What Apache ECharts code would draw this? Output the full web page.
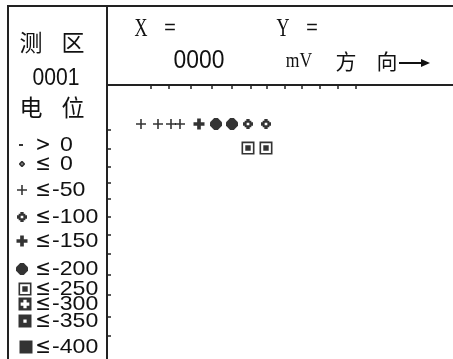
<!DOCTYPE html>
<html>
<head>
<meta charset="utf-8">
<script src="https://cdn.jsdelivr.net/npm/echarts@6/dist/echarts.min.js"></script>
<style>
html,body{margin:0;padding:0;background:#fff;}
#c{width:453px;height:359px;}
</style>
</head>
<body>
<div id="c"></div>
<script>
// ---- data ----
var categories = ['> 0', '≤ 0', '≤-50', '≤-100', '≤-150', '≤-200', '≤-250', '≤-300', '≤-350', '≤-400'];
// measurement points [x, y] per potential class (survey grid units)
var pts_gt0 = [];
var pts_le0 = [];
var pts_le50 = [[34, 39], [51, 39], [64, 39], [73, 39]];
var pts_le100 = [[141, 39], [159, 39]];
var pts_le150 = [[92, 39]];
var pts_le200 = [[109, 39], [125, 39]];
var pts_le250 = [[141, 63], [159, 63]];
var pts_le300 = [];
var pts_le350 = [];
var pts_le400 = [];
var xTicks = [44, 62, 84, 105, 125, 144, 160, 178, 195, 213, 231, 249];
var yTicks = [45, 64, 82, 98, 114, 132, 150, 169, 190, 210, 232, 251];
var areaNo = '0001';
var readout = '0000';

// ---- symbols ----
var SYM = {
  '> 0': 'path://M0,0h3v2h-3z',
  '≤ 0': 'path://M2,0h1l2,2v1l-2,2h-1l-2,-2v-1zM2,2v1h1v-1z',
  '≤-50': 'path://M4,0h1.5v4h4v1.5h-4v4h-1.5v-4h-4v-1.5h4z',
  '≤-100': 'path://M3,0h3v1.5h1.5v1.5h1.5v3h-1.5v1.5h-1.5v1.5h-3v-1.5h-1.5v-1.5h-1.5v-3h1.5v-1.5h1.5zM3.3,3.3v2.4h2.4v-2.4z',
  '≤-150': 'path://M3,0h3v3h3v3h-3v3h-3v-3h-3v-3h3z',
  '≤-200': 'path://M3.5,0h3l3.5,3.5v3l-3.5,3.5h-3l-3.5,-3.5v-3z',
  '≤-250': 'path://M0,0h12v12h-12zM1.5,1.5v9h9v-9zM3.5,3.5h5v5h-5z',
  '≤-300': 'path://M0,0h12v12h-12zM4.5,2v2.5h-2.5v3h2.5v2.5h3v-2.5h2.5v-3h-2.5v-2.5z',
  '≤-350': 'path://M0,0h12v12h-12zM4.5,4.5v3h3v-3z',
  '≤-400': 'path://M0,0h12v12h-12z'
};
var SIZE = {'> 0':[4,2],'≤ 0':[6,6],'≤-50':[10,10],'≤-100':[10,10],'≤-150':[11,11],'≤-200':[12,12],'≤-250':[13,13],'≤-300':[13,13],'≤-350':[13,13],'≤-400':[13,13]};

var seriesData = [pts_gt0, pts_le0, pts_le50, pts_le100, pts_le150, pts_le200, pts_le250, pts_le300, pts_le350, pts_le400];

var series = categories.map(function (c, i) {
  return {
    type: 'scatter',
    name: c,
    xAxisIndex: 0, yAxisIndex: 0,
    data: seriesData[i],
    symbol: SYM[c],
    symbolSize: SIZE[c],
    itemStyle: {color: '#000'},
    emphasis: {disabled: true},
    silent: true,
    animation: false
  };
});

// ---- side panel key (drawn in its own pixel-scaled grid) ----
var legendY = [145, 164, 190, 217, 241, 269, 289, 304, 321, 347];
var legendSymX = [21, 22, 22, 22, 22, 22, 25, 25, 25, 26];
categories.forEach(function (c, i) {
  series.push({
    type: 'scatter', name: 'key ' + c, xAxisIndex: 1, yAxisIndex: 1,
    data: [[legendSymX[i], legendY[i]]],
    symbol: SYM[c], symbolSize: SIZE[c],
    itemStyle: {color: '#000'}, emphasis: {disabled: true}, silent: true, animation: false
  });
});

var txt = function (x, y, s, font, size, sx, align) {
  return {type: 'text', x: x, y: y, silent: true, scaleX: sx || 1,
    style: {text: s, fontFamily: font, fontSize: size, fill: '#111', align: align || 'center', verticalAlign: 'middle'}};
};
var CJK = '"Noto Sans CJK SC"';
var MONO = '"Liberation Mono"';
var SANS = '"Liberation Sans"';
var SERIF = '"Liberation Serif"';
var g = [];
// frame lines
g.push({type: 'line', shape: {x1: 7, y1: 6, x2: 453, y2: 6}, style: {stroke: '#222', lineWidth: 2}, silent: true});
g.push({type: 'line', shape: {x1: 8, y1: 5, x2: 8, y2: 359}, style: {stroke: '#222', lineWidth: 2}, silent: true});
g.push({type: 'line', shape: {x1: 107, y1: 5, x2: 107, y2: 86}, style: {stroke: '#222', lineWidth: 2}, silent: true});
// left header
g.push(txt(31, 42, '测', CJK, 23));
g.push(txt(73, 42, '区', CJK, 23));
g.push(txt(56, 78, areaNo, SANS, 24, 0.88));
g.push(txt(31, 107, '电', CJK, 23));
g.push(txt(73, 107, '位', CJK, 23));
// top header
g.push(txt(141, 29, 'X', SERIF, 25, 0.72));
g.push(txt(170, 29, '=', MONO, 20));
g.push(txt(283, 29, 'Y', SERIF, 25, 0.72));
g.push(txt(312, 29, '=', MONO, 20));
g.push(txt(199, 61, readout, SANS, 26, 0.88));
g.push(txt(299, 61, 'mV', SERIF, 22, 0.8));
g.push(txt(346, 61, '方', CJK, 21));
g.push(txt(387, 61, '向', CJK, 21));
g.push({type: 'line', shape: {x1: 399, y1: 63, x2: 428, y2: 63}, style: {stroke: '#111', lineWidth: 2}, silent: true});
g.push({type: 'polygon', shape: {points: [[421, 59], [430, 63], [421, 67]]}, style: {fill: '#111'}, silent: true});
// side key labels
categories.forEach(function (c, i) {
  var rel = c.charAt(0);
  var num = c.slice(1).trim();
  g.push(txt(43, legendY[i], rel, '"DejaVu Sans"', 22, 0.85));
  g.push(txt(num.charAt(0) === '-' ? 52 : 60, legendY[i], num, SANS, 21, 1.1, 'left'));
});

var chart = echarts.init(document.getElementById('c'), null, {renderer: 'canvas'});
chart.setOption({
  animation: false,
  backgroundColor: '#fff',
  grid: [
    {left: 107, top: 85, right: 0, bottom: 0, containLabel: false},
    {left: 0, top: 0, width: 107, height: 359, containLabel: false}
  ],
  xAxis: [{
    type: 'value', gridIndex: 0, position: 'top', min: 0, max: 346,
    axisLine: {show: true, onZero: false, lineStyle: {color: '#222', width: 2}},
    axisTick: {show: true, inside: true, length: 4, customValues: xTicks, lineStyle: {color: '#222', width: 1.5}},
    axisLabel: {show: false},
    splitLine: {show: false}
  }, {
    type: 'value', gridIndex: 1, min: 0, max: 107, show: false
  }],
  yAxis: [{
    type: 'value', gridIndex: 0, inverse: true, min: 0, max: 274,
    axisLine: {show: true, onZero: false, lineStyle: {color: '#222', width: 2}},
    axisTick: {show: true, inside: true, length: 4, customValues: yTicks, lineStyle: {color: '#222', width: 1.5}},
    axisLabel: {show: false},
    splitLine: {show: false}
  }, {
    type: 'value', gridIndex: 1, inverse: true, min: 0, max: 359, show: false
  }],
  series: series,
  graphic: g
});
</script>
</body>
</html>
